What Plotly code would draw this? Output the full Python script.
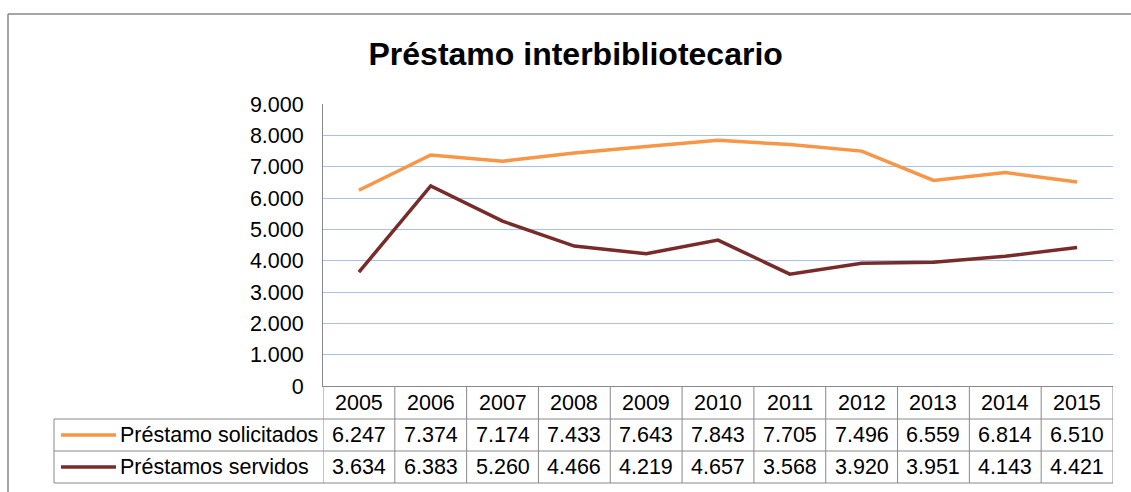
import plotly.graph_objects as go

# datos
years = ["2005", "2006", "2007", "2008", "2009", "2010", "2011", "2012", "2013", "2014", "2015"]
solicitados = [6247, 7374, 7174, 7433, 7643, 7843, 7705, 7496, 6559, 6814, 6510]
servidos = [3634, 6383, 5260, 4466, 4219, 4657, 3568, 3920, 3951, 4143, 4421]
series_names = ["Préstamo solicitados", "Préstamos servidos"]
y_ticks = [0, 1000, 2000, 3000, 4000, 5000, 6000, 7000, 8000, 9000]

W, H = 1131, 492
colors = ["#F79646", "#772C2A"]
gray = "#898989"
font = "Liberation Sans, Arial, sans-serif"
fs = 21.5


def px(x):
    return x / W


def py(y):
    return 1 - y / H


def fmt(v):
    return f"{v:,}".replace(",", ".")


fig = go.Figure()
for name, vals, c in zip(series_names, [solicitados, servidos], colors):
    fig.add_trace(go.Scatter(x=years, y=vals, mode="lines", name=name,
                             line=dict(color=c, width=3.5), showlegend=False))

shapes = []
annotations = []

# lineas de la tabla
row_y = [386, 419, 451, 483]
for i in range(len(years) + 1):
    shapes.append(dict(type="line", xref="x", yref="paper", x0=i - 0.5, x1=i - 0.5,
                       y0=py(483), y1=py(386), line=dict(color=gray, width=1)))
shapes.append(dict(type="line", xref="paper", yref="paper", x0=px(54), x1=px(54),
                   y0=py(483), y1=py(419), line=dict(color=gray, width=1)))
for yy in row_y[1:]:
    shapes.append(dict(type="line", xref="paper", yref="paper", x0=px(54), x1=px(1113),
                       y0=py(yy), y1=py(yy), line=dict(color=gray, width=1)))

# borde exterior del grafico
shapes.append(dict(type="line", xref="paper", yref="paper", x0=px(8), x1=1,
                   y0=py(14), y1=py(14), line=dict(color=gray, width=1.5)))
shapes.append(dict(type="line", xref="paper", yref="paper", x0=px(8), x1=px(8),
                   y0=0, y1=py(14), line=dict(color=gray, width=1.5)))

# cabecera de años
for i, yr in enumerate(years):
    annotations.append(dict(x=i, xref="x", y=py(403), yref="paper", text=yr,
                            xanchor="center", yanchor="middle",
                            showarrow=False, font=dict(size=fs, color="#000")))

# filas de valores + clave de leyenda
for r, (name, vals, c) in enumerate(zip(series_names, [solicitados, servidos], colors)):
    cy = py([435, 467][r])
    shapes.append(dict(type="line", xref="paper", yref="paper", x0=px(61), x1=px(116),
                       y0=cy, y1=cy, line=dict(color=c, width=3.5)))
    annotations.append(dict(x=px(118), xref="paper", y=cy, yref="paper", text=name,
                            xanchor="left", yanchor="middle",
                            showarrow=False, font=dict(size=fs, color="#000")))
    for i, v in enumerate(vals):
        annotations.append(dict(x=i, xref="x", y=cy, yref="paper", text=fmt(v),
                                xanchor="center", yanchor="middle",
                                showarrow=False, font=dict(size=fs, color="#000")))

fig.update_layout(
    width=W, height=H,
    margin=dict(l=0, r=0, t=0, b=0, autoexpand=False),
    paper_bgcolor="white", plot_bgcolor="white",
    font=dict(family=font, color="#000"),
    title=dict(text="<b>Préstamo interbibliotecario</b>", x=0.509, xanchor="center",
               y=py(54), yanchor="middle", font=dict(size=32, color="#000")),
    xaxis=dict(type="category", domain=[px(323), px(1113)], range=[-0.5, len(years) - 0.5],
               showticklabels=False, showgrid=False, zeroline=False, automargin=False,
               showline=True, linecolor=gray, linewidth=1, ticks=""),
    yaxis=dict(domain=[py(386), py(104)], range=[0, 9000], tickvals=y_ticks,
               ticktext=[fmt(v) for v in y_ticks], tickfont=dict(size=fs),
               showgrid=True, gridcolor="#A9C0E8", gridwidth=1, zeroline=False,
               showline=True, linecolor=gray, linewidth=1, ticks="", automargin=False,
               ticklabelstandoff=14),
    shapes=shapes,
    annotations=annotations,
)

fig.write_html("out.html", config={"displayModeBar": False},
               post_script="document.body.style.margin='0';")
